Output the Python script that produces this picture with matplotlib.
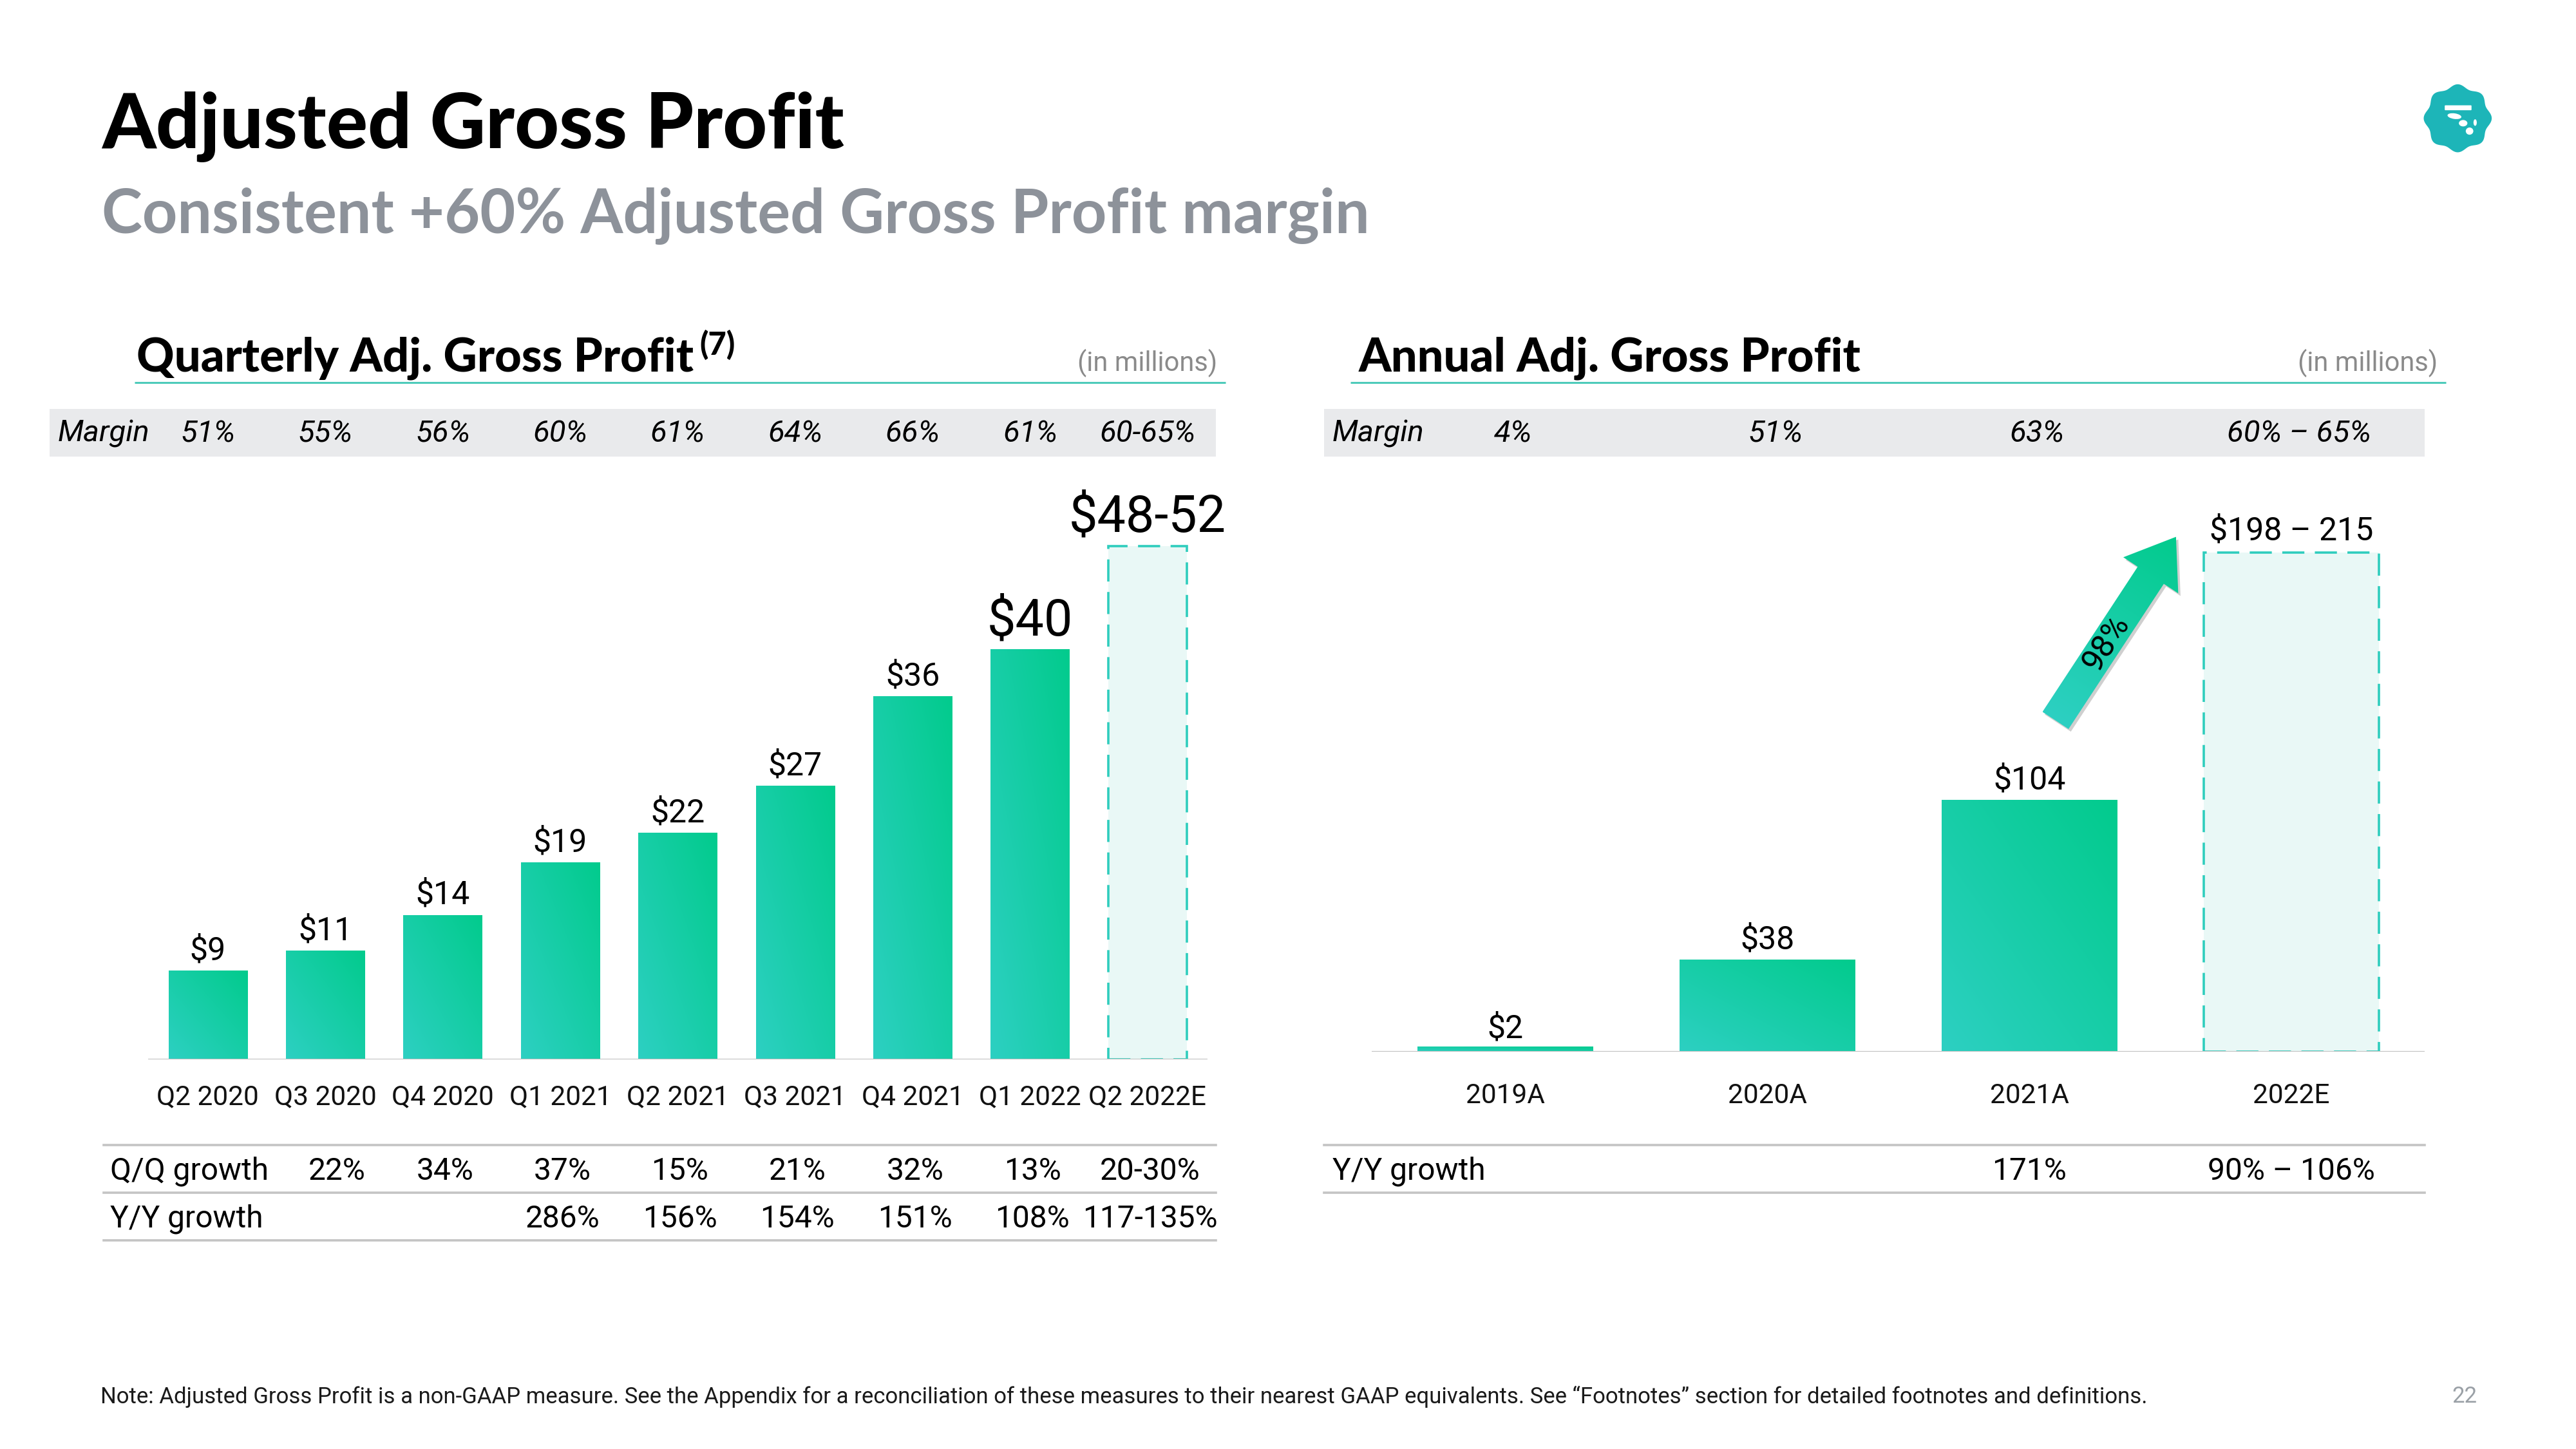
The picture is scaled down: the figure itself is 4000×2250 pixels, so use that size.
import numpy as np
import matplotlib
matplotlib.use("Agg")
import matplotlib.pyplot as plt
from matplotlib.patches import Rectangle, Polygon, Ellipse, FancyBboxPatch
from matplotlib.transforms import blended_transform_factory
from matplotlib.colors import to_rgb

# ---- data ----
q_labels = ['Q2 2020', 'Q3 2020', 'Q4 2020', 'Q1 2021', 'Q2 2021',
            'Q3 2021', 'Q4 2021', 'Q1 2022', 'Q2 2022E']
q_values = [8.7, 10.6, 14.1, 19.2, 22.1, 26.7, 35.4, 40.0]   # actuals, $M
q_guidance = 50.0                                            # mid of $48-52
q_value_text = ['$9', '$11', '$14', '$19', '$22', '$27', '$36', '$40', '$48-52']
q_margin = ['51%', '55%', '56%', '60%', '61%', '64%', '66%', '61%', '60-65%']
q_qq = ['', '22%', '34%', '37%', '15%', '21%', '32%', '13%', '20-30%']
q_yy = ['', '', '', '286%', '156%', '154%', '151%', '108%', '117-135%']

a_labels = ['2019A', '2020A', '2021A', '2022E']
a_values = [2, 38, 104]
a_guidance = 206.5                                           # mid of $198-215
a_value_text = ['$2', '$38', '$104', '$198 – 215']
a_margin = ['4%', '51%', '63%', '60% – 65%']
a_yy = ['', '', '171%', '90% – 106%']
arrow_text = '98%'

TEAL_LOW = np.array(to_rgb('#2dd0c2'))
TEAL_HIGH = np.array(to_rgb('#02cb8d'))
HEAD = 'Lato'
BODY = 'Roboto'

W, H = 1568, 882   # layout units (reference pixels)

fig = plt.figure(figsize=(40, 22.5), dpi=100)
fig.patch.set_facecolor('white')

ov = fig.add_axes([0, 0, 1, 1])
ov.set_xlim(0, W)
ov.set_ylim(H, 0)
ov.axis('off')


def fpos(x0, y_top, x1, y_bot):
    return [x0 / W, 1 - y_bot / H, (x1 - x0) / W, (y_bot - y_top) / H]


def grad_img(n=64):
    u = np.linspace(0, 1, n)
    U, V = np.meshgrid(u, u)
    t = ((U + V) / 2)[..., None]
    return TEAL_LOW * (1 - t) + TEAL_HIGH * t


def gradient_bars(ax, bars):
    img = grad_img()
    for b in bars:
        x0, w, h = b.get_x(), b.get_width(), b.get_height()
        im = ax.imshow(img, extent=(x0, x0 + w, 0, h), origin='lower',
                       aspect='auto', interpolation='bilinear', zorder=2)
        im.set_clip_path(b)
        b.set_facecolor('none')
        b.set_edgecolor('none')


def draw_chart(ax, labels, values, guidance, value_text, ylim, big, lab_y, off):
    x = np.arange(len(labels))
    bars = ax.bar(x[:len(values)], values, width=0.67, zorder=2)
    gradient_bars(ax, bars)
    ax.bar(x[-1], guidance, width=0.67, facecolor='#e9f8f6',
           edgecolor='#2fcdbd', linewidth=2.6, linestyle=(0, (9.5, 4.5)), zorder=2)
    ax.axhline(0, color='#bfbfbf', linewidth=2.2, zorder=3)
    ax.set_xlim(-0.51, len(labels) - 0.49)
    ax.set_ylim(0, ylim)
    ax.axis('off')
    ax.patch.set_alpha(0)
    heights = list(values) + [guidance]
    for i, (h, t) in enumerate(zip(heights, value_text)):
        size = 57 if i in big else 36
        ax.annotate(t, (x[i], h), xytext=(0, off[i] if i in off else 12),
                    textcoords='offset points', ha='center', va='baseline',
                    fontsize=size, family=BODY, color='black')
    tr = blended_transform_factory(ax.transData, ov.transData)
    for i, t in enumerate(labels):
        ax.text(x[i], lab_y, t, transform=tr, ha='center', va='center',
                fontsize=30.5, family=BODY, color='#111111')
    return tr


# ---- titles ----
ov.text(62, 90, 'Adjusted Gross Profit', fontsize=86, family=HEAD,
        weight='black', color='black', va='baseline')
ov.text(62, 142, 'Consistent +60% Adjusted Gross Profit margin', fontsize=68.5,
        family=HEAD, weight='bold', color='#8d929a', va='baseline')

# logo
th = np.linspace(0, 2 * np.pi, 400)
r = 19.6 + 1.1 * np.cos(8 * th)
ov.add_patch(Polygon(np.c_[1496 + r * np.cos(th), 72 + r * np.sin(th)],
                     closed=True, facecolor='#1db5b8', edgecolor='none'))
ov.add_patch(FancyBboxPatch((1488.5, 64.5), 15.5, 2.2, boxstyle='round,pad=0.4',
                            facecolor='white', edgecolor='none'))
ov.add_patch(Ellipse((1494, 70.7), 8.5, 3.4, angle=8, facecolor='white'))
ov.add_patch(Ellipse((1499.3, 75), 5.2, 3.9, facecolor='white'))
ov.add_patch(Ellipse((1506.6, 74.6), 2.0, 4.0, facecolor='white'))
ov.add_patch(Ellipse((1503.2, 79.8), 4.6, 4.4, facecolor='white'))

# ---- panel headers ----
for x0, x1, txt in [(83, 746, 'Quarterly Adj. Gross Profit'),
                    (827, 1489, 'Annual Adj. Gross Profit')]:
    ov.text(x0, 226, txt, fontsize=52, family=HEAD, weight='black',
            color='black', va='baseline')
    ov.text(x1 - 5, 226, '(in millions)', fontsize=30, family=BODY,
            color='#8a8a8a', va='baseline', ha='right')
    ov.plot([x0 - 1 if x0 < 800 else 822, x1], [233, 233], color='#4ecbba',
            linewidth=2.2, solid_capstyle='butt')
ov.text(426, 216, '(7)', fontsize=35, family=HEAD, weight='black',
        color='black', va='baseline')

# margin bands
ov.add_patch(Rectangle((30, 249), 710, 29, facecolor='#e9eaec', edgecolor='none'))
ov.add_patch(Rectangle((806, 249), 670, 29, facecolor='#e9eaec', edgecolor='none'))

# ---- charts ----
ax1 = fig.add_axes(fpos(90, 290, 735, 645))
tr1 = draw_chart(ax1, q_labels, q_values, q_guidance, q_value_text,
                 56.8, big=(7, 8), lab_y=668, off={7: 15, 8: 16})
ax2 = fig.add_axes(fpos(835, 290, 1476, 640))
tr2 = draw_chart(ax2, a_labels, a_values, a_guidance, a_value_text,
                 238, big=(), lab_y=667, off={0: 10, 1: 12, 2: 12, 3: 14})

MS = 34
ov.text(35, 264, 'Margin', fontsize=MS, family=BODY, style='italic',
        va='center', color='black')
for i, t in enumerate(q_margin):
    ov.text(i, 264, t, transform=tr1, ha='center', va='center', fontsize=MS,
            family=BODY, style='italic', color='black')
ov.text(811, 264, 'Margin', fontsize=MS, family=BODY, style='italic',
        va='center', color='black')
for i, t in enumerate(a_margin):
    ov.text(i + 0.03, 264, t, transform=tr2, ha='center', va='center',
            fontsize=MS, family=BODY, style='italic', color='black')

# ---- growth tables ----
TS = 34.5
for y in (697, 726, 755):
    ov.plot([63, 740], [y, y], color='#c4c4c4', linewidth=2.6)
for y in (697, 726):
    ov.plot([806, 1476], [y, y], color='#c4c4c4', linewidth=2.6)
ov.text(67, 713, 'Q/Q growth', fontsize=TS, family=BODY, va='center')
ov.text(67, 742, 'Y/Y growth', fontsize=TS, family=BODY, va='center')
ov.text(811, 713, 'Y/Y growth', fontsize=TS, family=BODY, va='center')
for i, (a, b) in enumerate(zip(q_qq, q_yy)):
    dx = 0.1 if i == 1 else 0.02
    ov.text(i + dx, 713, a, transform=tr1, ha='center', va='center',
            fontsize=TS, family=BODY)
    ov.text(i + 0.02, 742, b, transform=tr1, ha='center', va='center',
            fontsize=TS, family=BODY)
for i, t in enumerate(a_yy):
    ov.text(i, 713, t, transform=tr2, ha='center', va='center',
            fontsize=TS, family=BODY)

# ---- growth arrow between 2021A and 2022E ----
to_ov = ax2.transData + ov.transData.inverted()
tail = to_ov.transform((2.10, 137))
tip = to_ov.transform((2.56, 213))
d = tip - tail
L = np.hypot(*d)
d = d / L
n = np.array([-d[1], d[0]])
hw, hhw, hl = 9.5, 20.0, 28.0
neck = tip - d * hl
pts = np.array([tail + n * hw, neck + n * hw, neck + n * hhw, tip,
                neck - n * hhw, neck - n * hw, tail - n * hw])
ov.add_patch(Polygon(pts + np.array([1.4, 1.6]), closed=True, zorder=2,
                     facecolor='#a0a0a0', alpha=0.5, edgecolor='none'))
arrow = Polygon(pts, closed=True, facecolor='none', edgecolor='none', zorder=3)
ov.add_patch(arrow)
xa0, ya0 = pts.min(axis=0)
xa1, ya1 = pts.max(axis=0)
gx, gy = np.meshgrid(np.linspace(xa0, xa1, 80), np.linspace(ya0, ya1, 80))
t = np.clip(((gx - tail[0]) * d[0] + (gy - tail[1]) * d[1]) / L, 0, 1)[..., None]
im = ov.imshow(TEAL_LOW * (1 - t) + TEAL_HIGH * t, extent=(xa0, xa1, ya1, ya0),
               origin='upper', aspect='auto', interpolation='bilinear', zorder=3)
im.set_clip_path(arrow)
mid = tail + (tip - tail) * 0.42
ang = np.degrees(np.arctan2(-(tip - tail)[1], (tip - tail)[0]))
ov.text(mid[0], mid[1], arrow_text, rotation=ang, rotation_mode='anchor',
        ha='center', va='center', fontsize=36, family=BODY, color='black',
        zorder=4)
ov.set_xlim(0, W)
ov.set_ylim(H, 0)

# ---- footer ----
ov.text(61, 850, 'Note: Adjusted Gross Profit is a non-GAAP measure. See the Appendix '
        'for a reconciliation of these measures to their nearest GAAP equivalents. '
        'See “Footnotes” section for detailed footnotes and definitions.',
        fontsize=25, family=BODY, color='#1a1a1a', va='center')
ov.text(1500, 850, '22', fontsize=25, family=BODY, color='#9aa0a6',
        va='center', ha='center')

fig.savefig('out.png', dpi=100, facecolor='white')
